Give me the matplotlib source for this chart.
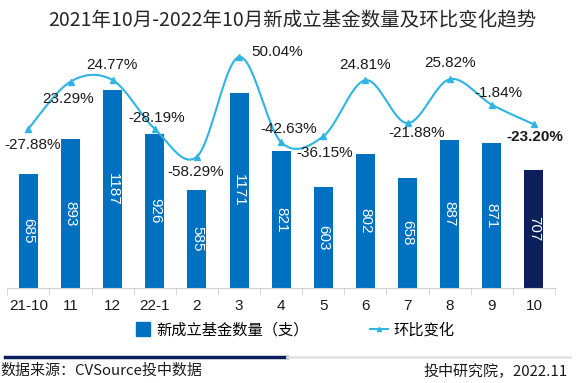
"""
2021年10月-2022年10月 新成立基金数量（柱）及环比变化（平滑折线）组合图.
"""
import matplotlib
matplotlib.use("Agg")
import matplotlib.pyplot as plt
from matplotlib.lines import Line2D
import numpy as np

plt.rcParams["font.family"] = ["Liberation Sans", "Noto Sans CJK SC", "DejaVu Sans"]
plt.rcParams["axes.unicode_minus"] = False

months = ["21-10", "11", "12", "22-1", "2", "3", "4", "5", "6", "7", "8", "9", "10"]
fund_counts = [685, 893, 1187, 926, 585, 1171, 821, 603, 802, 658, 887, 871, 707]
mom_change = [-27.88, 23.29, 24.77, -28.19, -58.29, 50.04, -42.63, -36.15,
              24.81, -21.88, 25.82, -1.84, -23.20]
# 标签相对数据点的偏移（像素）
label_offsets = [(4, -16), (-2, -17), (-1, 15), (2, 11), (-1, -15), (38, 5), (8, 13),
                 (1, -17), (0, 15), (9, -10), (0, 16), (7, 12), (1, -13)]

BAR_BLUE = "#0070c0"
BAR_NAVY = "#0b1f5c"
LINE_BLUE = "#2fb4e4"


def smooth_curve(xs, ys, steps=30):
    """Excel 式平滑线：相邻点间用三次贝塞尔连接，控制点取相邻差的 1/6."""
    xs = np.asarray(xs, float)
    ys = np.asarray(ys, float)
    px = np.concatenate([[xs[0]], xs, [xs[-1]]])
    py = np.concatenate([[ys[0]], ys, [ys[-1]]])
    out_x, out_y = [], []
    t = np.linspace(0, 1, steps)
    for i in range(1, len(px) - 2):
        p0 = np.array([px[i], py[i]])
        p3 = np.array([px[i + 1], py[i + 1]])
        c1 = p0 + (np.array([px[i + 1], py[i + 1]]) - np.array([px[i - 1], py[i - 1]])) / 6
        c2 = p3 - (np.array([px[i + 2], py[i + 2]]) - np.array([px[i], py[i]])) / 6
        b = ((1 - t) ** 3)[:, None] * p0 + (3 * (1 - t) ** 2 * t)[:, None] * c1 \
            + (3 * (1 - t) * t ** 2)[:, None] * c2 + (t ** 3)[:, None] * p3
        out_x.extend(b[:, 0])
        out_y.extend(b[:, 1])
    return out_x, out_y


fig = plt.figure(figsize=(5.76, 3.83), dpi=100)
ax = fig.add_axes([0.0128, 0.248, 0.9507, 0.6345])
x = np.arange(len(months))

colors = [BAR_BLUE] * (len(months) - 1) + [BAR_NAVY]
ax.bar(x, fund_counts, width=0.45, color=colors, zorder=2)
for xi, v in zip(x, fund_counts):
    ax.text(xi, v / 2, str(v), rotation=270, ha="center", va="center",
            color="white", fontsize=11, zorder=3)

ax.set_xlim(-0.5, len(months) - 0.5)
ax.set_ylim(0, 1457)
ax.set_yticks([])
for side in ["left", "right", "top"]:
    ax.spines[side].set_visible(False)
ax.spines["bottom"].set_color("#d0d0d0")
ax.set_xticks(x)
ax.set_xticklabels(months, fontsize=11, color="#1a1a1a")
ax.tick_params(axis="x", which="major", length=0, pad=8)
ax.set_xticks(np.arange(-0.5, len(months), 1), minor=True)
ax.tick_params(axis="x", which="minor", length=5, color="#d0d0d0")

ax2 = ax.twinx()
ax2.set_ylim(-201, 63)
ax2.axis("off")
sx, sy = smooth_curve(x, mom_change)
ax2.plot(sx, sy, color=LINE_BLUE, lw=1.5, zorder=4)
ax2.plot(x, mom_change, ls="none", marker="^", ms=4, color=LINE_BLUE, zorder=5)
for i, (v, (dx, dy)) in enumerate(zip(mom_change, label_offsets)):
    last = i == len(months) - 1
    ax2.annotate(f"{v:.2f}%", (i, v), xytext=(dx, dy), textcoords="offset pixels",
                 ha="center", va="center", fontsize=11, color="#1a1a1a",
                 fontweight="bold" if last else "normal", zorder=6)

fig.text(0.507, 0.947, "2021年10月-2022年10月新成立基金数量及环比变化趋势",
         ha="center", va="center", fontsize=14, color="#262626",
         family=["Noto Sans CJK SC", "DejaVu Sans"])

handles = [
    Line2D([], [], ls="none", marker="s", ms=10, color=BAR_BLUE),
    Line2D([], [], color=LINE_BLUE, lw=1.5, marker="^", ms=3),
]
fig.legend(handles, ["新成立基金数量（支）", "环比变化"], loc="center",
           bbox_to_anchor=(0.51, 1 - 330 / 383), ncol=2, frameon=False,
           handlelength=1.2, handletextpad=0.3, columnspacing=4.0,
           prop={"family": ["Noto Sans CJK SC", "DejaVu Sans"], "size": 11})

fig.add_artist(Line2D([5 / 576, 287 / 576], [1 - 357 / 383] * 2, color="#0b1f5c", lw=2.5))
fig.add_artist(Line2D([287 / 576, 570 / 576], [1 - 357 / 383] * 2, color="#e3e3e3", lw=2))
fig.text(0.0, 1 - 371 / 383, "数据来源：CVSource投中数据", ha="left", va="center",
         fontsize=10.8, color="#1a1a1a", family=["Noto Sans CJK SC", "DejaVu Sans"])
fig.text(568 / 576, 1 - 371 / 383, "投中研究院，2022.11", ha="right", va="center",
         fontsize=10.8, color="#1a1a1a", family=["Noto Sans CJK SC", "DejaVu Sans"])

fig.savefig("out.png", dpi=100)
